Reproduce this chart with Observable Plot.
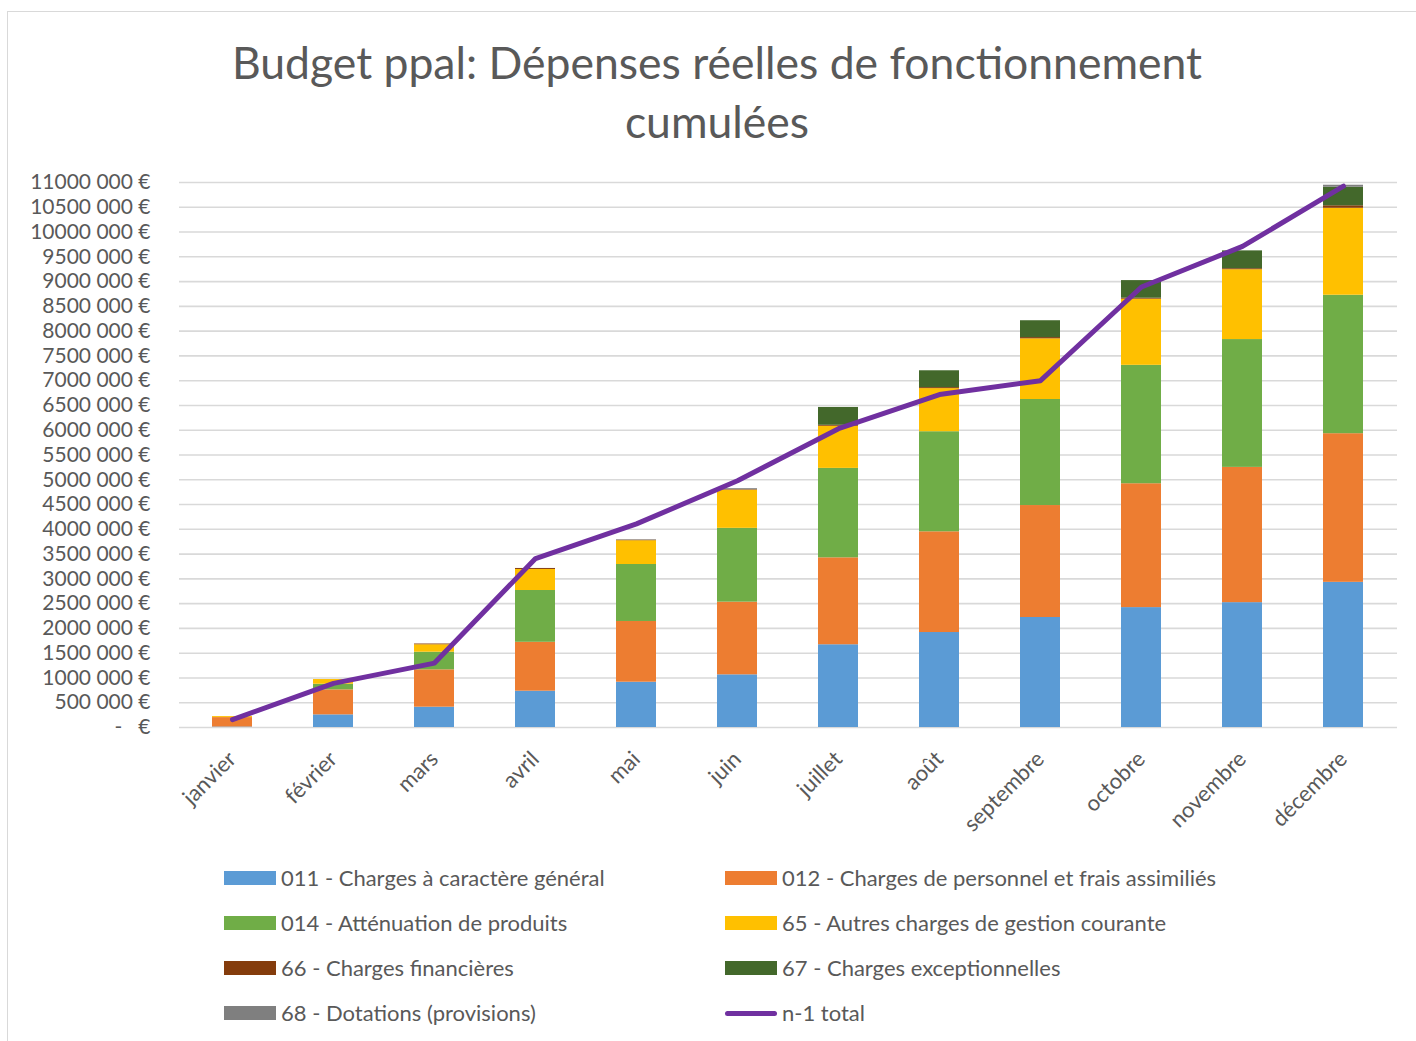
<!DOCTYPE html>
<html><head><meta charset="utf-8">
<script src="https://cdn.jsdelivr.net/npm/d3@7"></script>
<script src="https://cdn.jsdelivr.net/npm/@observablehq/plot@0.6"></script>
<style>
body{margin:0;background:#fff;font-family:Lato,sans-serif;}
#wrap{position:relative;width:1416px;height:1041px;overflow:hidden;background:#fff;}
#frame{position:absolute;left:7px;top:11px;width:1420px;height:1100px;border:1.5px solid #d9d9d9;box-sizing:border-box;}
#title{position:absolute;left:0;width:1434px;top:32px;text-align:center;font-size:44.5px;color:#595959;line-height:59px;}
#chart{position:absolute;left:0;top:0;}
.li{position:absolute;font-size:22px;color:#595959;white-space:nowrap;line-height:26px;}
.sw{position:absolute;width:52px;height:14px;}
</style></head>
<body><div id="wrap"><div id="frame"></div><div id="chart"></div>
<div id="title">Budget ppal: Dépenses réelles de fonctionnement<br>cumulées</div>
<div id="legend"></div></div>
<script>
const months = ["janvier","février","mars","avril","mai","juin","juillet","août","septembre","octobre","novembre","décembre"];
const seriesNames = ["011 - Charges à caractère général","012 - Charges de personnel et frais assimiliés","014 - Atténuation de produits","65 - Autres charges de gestion courante","66 - Charges financières","67 - Charges exceptionnelles","68 - Dotations (provisions)"];
const colors = ["#5b9bd5","#ed7d31","#70ad47","#ffc000","#843c0c","#43682b","#7f7f7f"];
const s011 = [10000,255000,410000,733000,914000,1063000,1670000,1917000,2220000,2420000,2520000,2930000];
const s012 = [190000,505000,754000,987000,1226000,1467000,1755000,2033000,2260000,2500000,2730000,3000000];
const s014 = [0,113000,356000,1045000,1150000,1490000,1805000,2020000,2140000,2390000,2580000,2795000];
const s65 = [20000,95000,150000,425000,480000,770000,850000,870000,1225000,1335000,1410000,1755000];
const s66 = [0,0,15000,20000,10000,10000,20000,20000,25000,20000,20000,50000];
const s67 = [0,0,0,0,0,0,360000,340000,340000,355000,360000,375000];
const s68 = [0,0,0,0,10000,20000,0,0,0,0,0,40000];
const n1Total = [160000,890000,1300000,3410000,4110000,4980000,6030000,6720000,7000000,8890000,9710000,10925000];
const lineName = "n-1 total";
const lineColor = "#7030a0";
const yTicks = d3.range(0, 11000001, 500000);

const allSeries = [s011,s012,s014,s65,s66,s67,s68];
const data = [];
allSeries.forEach((arr, i) => arr.forEach((v, j) => data.push({series: seriesNames[i], month: months[j], value: v})));
const lineData = months.map((m, j) => ({month: m, value: n1Total[j]}));
const fmt = d => d === 0 ? "-\u00a0\u00a0\u00a0€" : `${d/1000} 000 €`;

const chart = Plot.plot({
  width: 1416, height: 850,
  marginLeft: 179, marginRight: 19, marginTop: 182, marginBottom: 123,
  style: {fontFamily: "Lato, sans-serif", background: "transparent", color: "#595959"},
  x: {domain: months, paddingInner: 0.6, paddingOuter: 0.3, label: null},
  y: {domain: [0, 11000000], label: null},
  color: {domain: seriesNames, range: colors},
  marks: [
    Plot.gridY(yTicks, {stroke: "#d9d9d9", strokeOpacity: 1, strokeWidth: 1.6}),
    Plot.axisY(yTicks, {tickSize: 0, tickPadding: 29, tickFormat: fmt, fontSize: 21, fill: "#595959"}),
    Plot.axisX({tickRotate: -45, tickSize: 0, tickPadding: 28, fontSize: 22, fill: "#595959"}),
    Plot.barY(data, {x: "month", y: "value", fill: "series", order: seriesNames}),
    Plot.line(lineData, {x: "month", y: "value", stroke: lineColor, strokeWidth: 5, strokeLinejoin: "round", strokeLinecap: "round"})
  ]
});
document.getElementById("chart").appendChild(chart);

const legend = document.getElementById("legend");
const items = seriesNames.map((n, i) => ({name: n, color: colors[i], type: "rect"}));
items.push({name: lineName, color: lineColor, type: "line"});
items.forEach((it, i) => {
  const col = i % 2, row = Math.floor(i / 2);
  const x0 = col === 0 ? 224 : 725;
  const yc = 878 + row * 45;
  const sw = document.createElement("div");
  sw.className = "sw";
  sw.style.left = x0 + "px";
  if (it.type === "rect") { sw.style.top = (yc - 7) + "px"; sw.style.background = it.color; }
  else { sw.style.top = (yc - 2.5) + "px"; sw.style.height = "5px"; sw.style.borderRadius = "3px"; sw.style.background = it.color; }
  legend.appendChild(sw);
  const t = document.createElement("div");
  t.className = "li"; t.textContent = it.name;
  t.style.left = (x0 + 57) + "px"; t.style.top = (yc - 13) + "px";
  legend.appendChild(t);
});
</script></body></html>
